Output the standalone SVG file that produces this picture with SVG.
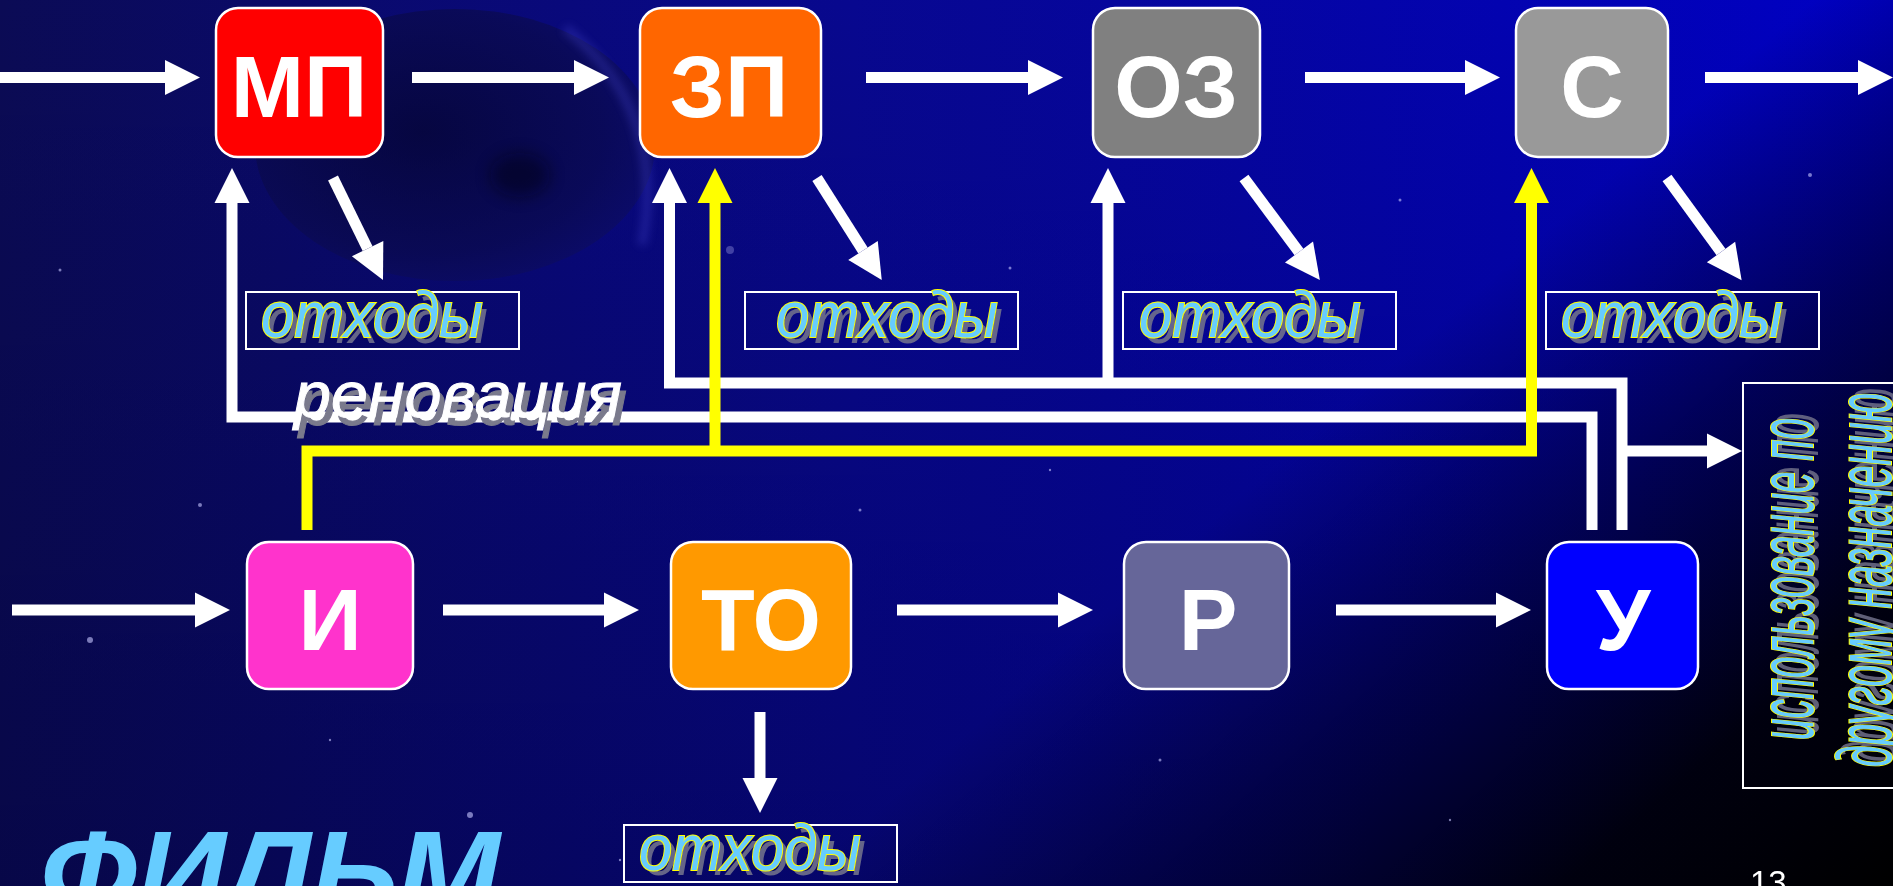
<svg xmlns="http://www.w3.org/2000/svg" width="1893" height="886" viewBox="0 0 1893 886">
<defs>
<linearGradient id="bgH" x1="0" y1="0" x2="1893" y2="0" gradientUnits="userSpaceOnUse">
<stop offset="0" stop-color="#0b0b55"/>
<stop offset="0.45" stop-color="#08088f"/>
<stop offset="1" stop-color="#0000c4"/>
</linearGradient>
<linearGradient id="bgV" x1="0" y1="0" x2="0" y2="886" gradientUnits="userSpaceOnUse">
<stop offset="0" stop-color="#000030" stop-opacity="0"/>
<stop offset="1" stop-color="#000030" stop-opacity="0.35"/>
</linearGradient>
<linearGradient id="bgD" x1="1420" y1="340" x2="1893" y2="886" gradientUnits="userSpaceOnUse">
<stop offset="0" stop-color="#000010" stop-opacity="0"/>
<stop offset="0.35" stop-color="#000015" stop-opacity="0.55"/>
<stop offset="0.7" stop-color="#000008" stop-opacity="0.95"/>
<stop offset="1" stop-color="#000000" stop-opacity="1"/>
</linearGradient>
<radialGradient id="planet" cx="0.42" cy="0.45" r="0.6">
<stop offset="0" stop-color="#050532"/>
<stop offset="0.75" stop-color="#0a0a4e"/>
<stop offset="1" stop-color="#0c0c62"/>
</radialGradient>
<filter id="blur6" x="-50%" y="-50%" width="200%" height="200%"><feGaussianBlur stdDeviation="8"/></filter>
<filter id="blur4" x="-20%" y="-20%" width="140%" height="140%"><feGaussianBlur stdDeviation="4"/></filter>
<marker id="ah" markerUnits="userSpaceOnUse" markerWidth="35" markerHeight="35" refX="0" refY="17.5" viewBox="0 0 35 35" orient="auto" overflow="visible">
<path d="M0,0 L35,17.5 L0,35 Z" fill="#ffffff"/>
</marker>
<marker id="ahy" markerUnits="userSpaceOnUse" markerWidth="35" markerHeight="35" refX="0" refY="17.5" viewBox="0 0 35 35" orient="auto" overflow="visible">
<path d="M0,0 L35,17.5 L0,35 Z" fill="#ffff00"/>
</marker>
<style>
.box{stroke:#ffffff;stroke-width:2.5}
.lbl{font-family:"Liberation Sans",Arial,sans-serif;font-weight:bold;font-size:88px;fill:#ffffff;text-anchor:middle}
.w{fill:none;stroke:#ffffff;stroke-width:11;stroke-linejoin:miter}
.wa{marker-end:url(#ah)}
.y{fill:none;stroke:#ffff00;stroke-width:11;stroke-linejoin:miter;marker-end:url(#ahy)}
.wbox{fill:none;stroke:#ffffff;stroke-width:2}
.wt{font-family:"Liberation Sans",Arial,sans-serif;font-style:italic;font-size:64px;fill:#66ccff;stroke:#ffff00;stroke-width:2;paint-order:stroke}
.ws{font-family:"Liberation Sans",Arial,sans-serif;font-style:italic;font-size:64px;fill:#70708c;opacity:0.9}
.vt{font-family:"Liberation Sans",Arial,sans-serif;font-style:italic;font-size:78px;fill:#66ccff;stroke:#ffff00;stroke-width:2;paint-order:stroke;text-anchor:middle}
.vs{font-family:"Liberation Sans",Arial,sans-serif;font-style:italic;font-size:78px;fill:#70708a;opacity:0.85;text-anchor:middle}
</style>
</defs>

<g id="background">
<rect x="0" y="0" width="1893" height="886" fill="url(#bgH)"/>
<rect x="0" y="0" width="1893" height="886" fill="url(#bgV)"/>
<ellipse cx="455" cy="145" rx="200" ry="136" fill="url(#planet)" opacity="0.75"/>
<path d="M565,28 Q668,110 642,245" fill="none" stroke="#5050d8" stroke-width="9" opacity="0.3" filter="url(#blur4)"/>
<ellipse cx="520" cy="175" rx="30" ry="22" fill="#000010" opacity="0.45" filter="url(#blur6)"/>
<rect x="0" y="0" width="1893" height="886" fill="url(#bgD)"/>
<g fill="#c8c8ff" opacity="0.6">
<circle cx="90" cy="640" r="3"/><circle cx="255" cy="122" r="2"/><circle cx="730" cy="250" r="4" opacity="0.5"/>
<circle cx="470" cy="815" r="3"/><circle cx="200" cy="505" r="2"/><circle cx="1190" cy="120" r="1.5"/>
<circle cx="1010" cy="268" r="1.5"/><circle cx="940" cy="420" r="1.5"/><circle cx="1400" cy="200" r="1.5"/>
<circle cx="1810" cy="175" r="2"/><circle cx="860" cy="510" r="1.5"/><circle cx="1160" cy="760" r="1.5"/>
<circle cx="1600" cy="130" r="1.5"/><circle cx="60" cy="270" r="1.5"/><circle cx="1450" cy="820" r="1.2"/>
<circle cx="620" cy="860" r="1.2"/><circle cx="1050" cy="470" r="1.2"/><circle cx="330" cy="740" r="1.2"/>
</g>
</g>

<g id="node-MP"><rect class="box" x="216" y="8" width="167" height="149" rx="22" fill="#ff0000"/><text class="lbl" x="299" y="117">МП</text></g>
<g id="node-ZP"><rect class="box" x="640" y="8" width="181" height="149" rx="22" fill="#ff6600"/><text class="lbl" x="729" y="117">ЗП</text></g>
<g id="node-OZ"><rect class="box" x="1093" y="8" width="167" height="149" rx="22" fill="#808080"/><text class="lbl" x="1176" y="117">ОЗ</text></g>
<g id="node-S"><rect class="box" x="1516" y="8" width="152" height="149" rx="22" fill="#999999"/><text class="lbl" x="1592" y="117">С</text></g>
<g id="node-I"><rect class="box" x="247" y="542" width="166" height="147" rx="22" fill="#ff33cc"/><text class="lbl" x="330" y="650">И</text></g>
<g id="node-TO"><rect class="box" x="671" y="542" width="180" height="147" rx="22" fill="#ff9900"/><text class="lbl" x="761" y="650">ТО</text></g>
<g id="node-R"><rect class="box" x="1124" y="542" width="165" height="147" rx="22" fill="#666699"/><text class="lbl" x="1208" y="650">Р</text></g>
<g id="node-U"><rect class="box" x="1547" y="542" width="151" height="147" rx="22" fill="#0000ff"/><text class="lbl" x="1623" y="650">У</text></g>

<g id="connectors">
<path class="w wa" d="M0,77.5 H165"/>
<path class="w wa" d="M412,77.5 H574"/>
<path class="w wa" d="M866,77.5 H1028"/>
<path class="w wa" d="M1305,77.5 H1465"/>
<path class="w wa" d="M1705,77.5 H1858"/>
<path class="w wa" d="M12,610 H195"/>
<path class="w wa" d="M443,610 H604"/>
<path class="w wa" d="M897,610 H1058"/>
<path class="w wa" d="M1336,610 H1496"/>
<path class="w wa" d="M333,178 L367.6,248.6"/>
<path class="w wa" d="M817,178 L863,250.5"/>
<path class="w wa" d="M1244,178 L1299,252"/>
<path class="w wa" d="M1667,178 L1721,252"/>
<path class="w wa" d="M760,712 V778"/>
<path class="w wa" d="M1622,530 V383 H669.5 V203"/>
<path class="w wa" d="M1108,383 V203"/>
<path class="w wa" d="M1622,451 H1707"/>
<path class="w wa" d="M1592,530 V417 H232 V203"/>
<path class="y" d="M307,530 V451 H1531.5 V203"/>
<path class="y" d="M715,451 V203"/>
</g>

<g id="label-renovation">
<text x="299" y="425" font-family="Liberation Sans, Arial, sans-serif" font-style="italic" font-size="64" fill="#7a7a8c" stroke="#7a7a8c" stroke-width="1" textLength="328" lengthAdjust="spacingAndGlyphs">реновация</text>
<text x="294" y="417" font-family="Liberation Sans, Arial, sans-serif" font-style="italic" font-size="64" fill="#ffffff" stroke="#ffffff" stroke-width="1" textLength="328" lengthAdjust="spacingAndGlyphs">реновация</text>
</g>

<g id="waste-1"><rect class="wbox" x="246" y="292" width="273" height="57"/><text class="ws" x="266" y="343" textLength="222" lengthAdjust="spacingAndGlyphs">отходы</text><text class="wt" x="261" y="337" textLength="222" lengthAdjust="spacingAndGlyphs">отходы</text></g>
<g id="waste-2"><rect class="wbox" x="745" y="292" width="273" height="57"/><text class="ws" x="781" y="343" textLength="222" lengthAdjust="spacingAndGlyphs">отходы</text><text class="wt" x="776" y="337" textLength="222" lengthAdjust="spacingAndGlyphs">отходы</text></g>
<g id="waste-3"><rect class="wbox" x="1123" y="292" width="273" height="57"/><text class="ws" x="1144" y="343" textLength="222" lengthAdjust="spacingAndGlyphs">отходы</text><text class="wt" x="1139" y="337" textLength="222" lengthAdjust="spacingAndGlyphs">отходы</text></g>
<g id="waste-4"><rect class="wbox" x="1546" y="292" width="273" height="57"/><text class="ws" x="1566" y="343" textLength="222" lengthAdjust="spacingAndGlyphs">отходы</text><text class="wt" x="1561" y="337" textLength="222" lengthAdjust="spacingAndGlyphs">отходы</text></g>
<g id="waste-5"><rect class="wbox" x="624" y="825" width="273" height="57"/><text class="ws" x="644" y="875" textLength="222" lengthAdjust="spacingAndGlyphs">отходы</text><text class="wt" x="639" y="870" textLength="222" lengthAdjust="spacingAndGlyphs">отходы</text></g>

<g id="node-reuse">
<rect class="wbox" x="1743" y="383" width="170" height="405"/>
<g transform="translate(1813,579) rotate(-90)">
<text class="vs" x="5" y="5" textLength="322" lengthAdjust="spacingAndGlyphs">использование по</text>
<text class="vt" x="0" y="0" textLength="322" lengthAdjust="spacingAndGlyphs">использование по</text>
</g>
<g transform="translate(1891,580) rotate(-90)">
<text class="vs" x="5" y="5" textLength="374" lengthAdjust="spacingAndGlyphs">другому назначению</text>
<text class="vt" x="0" y="0" textLength="374" lengthAdjust="spacingAndGlyphs">другому назначению</text>
</g>
</g>

<g id="title">
<text x="40" y="915" font-family="Liberation Sans, Arial, sans-serif" font-style="italic" font-weight="bold" font-size="120" fill="#66ccff" textLength="460" lengthAdjust="spacingAndGlyphs">ФИЛЬМ</text>
</g>
<g id="page-number">
<text x="1750" y="894" font-family="Liberation Sans, Arial, sans-serif" font-size="33" fill="#ffffff">13</text>
</g>
</svg>
